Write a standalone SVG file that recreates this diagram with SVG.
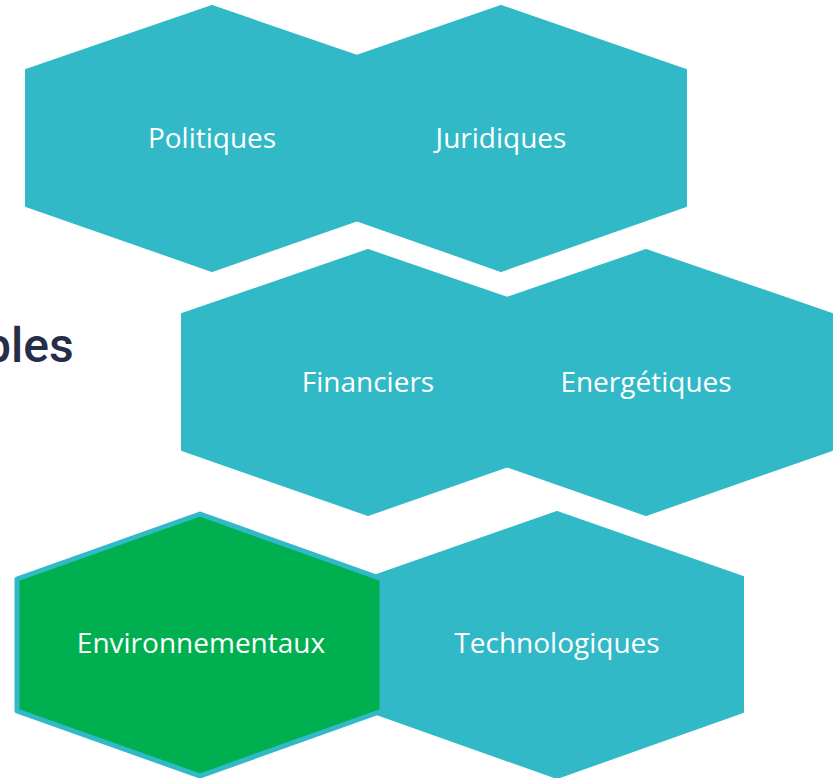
<svg xmlns="http://www.w3.org/2000/svg" width="836" height="778" viewBox="0 0 836 778">
<style>
.hex{fill:#31B9C7;stroke:#31B9C7;stroke-width:2;stroke-linejoin:round}
.green{fill:#00B050;stroke:#31B9C7;stroke-width:5;stroke-linejoin:round}
.lbl{font-family:"Open Sans","Liberation Sans",sans-serif;font-size:28px;fill:#FFFFFF;text-anchor:middle}
.title{font-family:Roboto,"Liberation Sans",sans-serif;font-weight:500;font-size:48px;fill:#262D47}
</style>
<rect width="836" height="778" fill="#FFFFFF"/>
<text class="title" x="-16" y="362">bles</text>
<g id="connectors"></g>
<g id="politiques">
<polygon class="hex" points="212,6 398,70 398,206 212,271 26,206 26,70"/>
<text class="lbl" x="212" y="148">Politiques</text>
</g>
<g id="juridiques">
<polygon class="hex" points="501,6 686,70 686,206 501,271 316,206 316,70"/>
<text class="lbl" x="501" y="148">Juridiques</text>
</g>
<g id="financiers">
<polygon class="hex" points="368,250 554,314 554,450 368,515 182,450 182,314"/>
<text class="lbl" x="368" y="392">Financiers</text>
</g>
<g id="energetiques">
<polygon class="hex" points="646,250 832,314 832,450 646,515 460,450 460,314"/>
<text class="lbl" x="646" y="392">Energétiques</text>
</g>
<g id="technologiques">
<polygon class="hex" points="557,512 743,577 743,712 557,778 371,712 371,577"/>
<text class="lbl" x="557" y="653">Technologiques</text>
</g>
<g id="environnementaux">
<polygon class="green" points="200,514 382,579 382,711 200,776 17,711 17,579"/>
<text class="lbl" x="201" y="653">Environnementaux</text>
</g>
</svg>
